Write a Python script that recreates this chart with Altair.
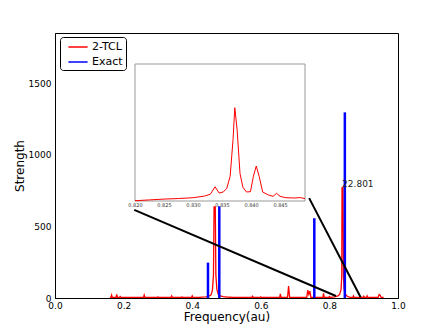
import altair as alt
import pandas as pd

# ---- main spectrum: 2-TCL (red line) ----
red_freq = [0.160, 0.163, 0.165, 0.167, 0.178, 0.180, 0.182, 0.188, 0.190, 0.192,
            0.258, 0.260, 0.262, 0.298, 0.300, 0.302, 0.338, 0.340, 0.342,
            0.368, 0.370, 0.372, 0.398, 0.400, 0.402, 0.420, 0.440, 0.450, 0.455,
            0.459, 0.462, 0.4638, 0.4655, 0.4672, 0.469, 0.472, 0.476, 0.482,
            0.490, 0.500, 0.520, 0.574, 0.576, 0.578, 0.598, 0.600, 0.602,
            0.655, 0.657, 0.659, 0.678, 0.681, 0.684, 0.734, 0.737, 0.740,
            0.743, 0.746, 0.781, 0.783, 0.785, 0.798, 0.800, 0.802, 0.815,
            0.825, 0.830, 0.834, 0.836, 0.8368, 0.838, 0.8395, 0.841, 0.843,
            0.846, 0.850, 0.856, 0.862, 0.868, 0.870, 0.872, 0.898, 0.900,
            0.902, 0.908, 0.910, 0.912, 0.942, 0.945, 0.948, 0.951, 0.958]
red_strength = [4, 4, 20, 4, 4, 25, 4, 4, 10, 4,
                4, 20, 4, 4, 8, 4, 4, 15, 4,
                4, 8, 4, 4, 15, 4, 5, 8, 14, 22,
                55, 160, 640, 600, 640, 160, 60, 25, 14,
                9, 7, 5, 4, 12, 4, 4, 8, 4,
                4, 28, 4, 4, 84, 4, 4, 55, 25,
                48, 4, 4, 32, 4, 4, 10, 4, 8,
                15, 25, 60, 150, 774, 720, 774, 150, 60,
                30, 15, 8, 5, 4, 15, 4, 4, 12,
                4, 4, 15, 4, 4, 25, 20, 4, 4]

# ---- exact spectrum (blue sticks) ----
exact_freq = [0.446, 0.479, 0.756, 0.845]
exact_strength = [247, 640, 557, 1296]

# ---- inset (zoom of 2-TCL near 0.835) ----
inset_freq = [0.8200, 0.8225, 0.8250, 0.8275, 0.8300, 0.8320, 0.8330, 0.8338,
              0.8345, 0.8352, 0.8358, 0.8364, 0.8369, 0.8372, 0.8376, 0.8381,
              0.8386, 0.8392, 0.8399, 0.8404, 0.8409, 0.8414, 0.8420, 0.8430,
              0.8438, 0.8444, 0.8450, 0.8460, 0.8475, 0.8485, 0.8493]
inset_strength = [2, 8, 14, 18, 24, 36, 50, 104,
                  58, 66, 90, 180, 450, 681, 520, 200,
                  100, 66, 68, 180, 255, 180, 66, 44,
                  34, 56, 34, 24, 22, 25, 17]
inset_ticks = [0.820, 0.825, 0.830, 0.835, 0.840, 0.845]
inset_domain_x = [0.820, 0.8493]
inset_domain_y = [0, 1000]

# ---- connector lines and annotation ----
conn_x1 = [0.231, 0.741]
conn_y1 = [615, 697]
conn_x2 = [0.819, 0.891]
conn_y2 = [14, 5]
label_text = ["22.801"]
label_freq = [0.837]
label_strength = [797]

x_ticks = [0.0, 0.2, 0.4, 0.6, 0.8, 1.0]
y_ticks = [0, 500, 1000, 1500]

W, H = 343, 265
FONT = "DejaVu Sans"

red_df = pd.DataFrame({"freq": red_freq, "strength": red_strength, "series": "2-TCL"})
exact_df = pd.DataFrame({"freq": exact_freq, "strength": exact_strength, "series": "Exact"})
exact_df["base"] = 0
conn_df = pd.DataFrame({"x1": conn_x1, "y1": conn_y1, "x2": conn_x2, "y2": conn_y2})
label_df = pd.DataFrame({"freq": label_freq, "strength": label_strength, "text": label_text})
inset_df = pd.DataFrame({"freq": inset_freq, "strength": inset_strength})
frame_df = pd.DataFrame({"x1": [inset_domain_x[0]], "x2": [inset_domain_x[1]],
                         "y1": [inset_domain_y[0]], "y2": [inset_domain_y[1]]})

x_main = alt.Scale(domain=[0, 1], nice=False, zero=False)
y_main = alt.Scale(domain=[0, 1850], nice=False)
color_scale = alt.Scale(domain=["2-TCL", "Exact"], range=["red", "blue"])

red = alt.Chart(red_df).mark_line(strokeWidth=1.3, clip=True).encode(
    x=alt.X("freq:Q", scale=x_main,
            axis=alt.Axis(values=x_ticks, format=".1f", title="Frequency(au)",
                          labelPadding=3, titlePadding=1, labelFlush=False)),
    y=alt.Y("strength:Q", scale=y_main,
            axis=alt.Axis(values=y_ticks, format="d", title="Strength",
                          labelPadding=4, titlePadding=2, labelFlush=False)),
    color=alt.Color("series:N", scale=color_scale,
                    legend=alt.Legend(title=None, orient="none", legendX=5, legendY=4,
                                      symbolType="M-1.6,0H1.6", symbolStrokeWidth=1.5,
                                      symbolSize=144, symbolOffset=8,
                                      labelFontSize=11, labelFont=FONT,
                                      strokeColor="black", fillColor="white",
                                      cornerRadius=3, padding=3, rowPadding=3,
                                      labelOffset=7)),
)

blue = alt.Chart(exact_df).mark_rule(strokeWidth=2.5).encode(
    x="freq:Q",
    y="strength:Q",
    y2="base:Q",
    color=alt.Color("series:N", scale=color_scale),
)

conn = alt.Chart(conn_df).mark_rule(strokeWidth=2, color="black").encode(
    x="x1:Q", y="y1:Q", x2="x2:Q", y2="y2:Q"
)

label = alt.Chart(label_df).mark_text(align="left", baseline="middle", fontSize=9,
                                      font=FONT, color="#222222").encode(
    x="freq:Q", y="strength:Q", text="text:N"
)

main = alt.layer(red, blue, conn, label)

x_inset = alt.Scale(domain=inset_domain_x, range=[80, 250], nice=False, zero=False)
y_inset = alt.Scale(domain=inset_domain_y, range=[168, 31], nice=False)

frame = alt.Chart(frame_df).mark_rect(fill="white", stroke="#999999", strokeWidth=1).encode(
    x=alt.X("x1:Q", scale=x_inset,
            axis=alt.Axis(orient="bottom", offset=-97, values=inset_ticks, format=".3f",
                          labelFontSize=5, labelColor="#333333", domain=False, ticks=False,
                          labelPadding=1, title=None, grid=False, labelFlush=False)),
    x2="x2:Q",
    y=alt.Y("y1:Q", scale=y_inset, axis=None),
    y2="y2:Q",
)

inset_line = alt.Chart(inset_df).mark_line(color="red", strokeWidth=1).encode(
    x=alt.X("freq:Q", scale=x_inset),
    y=alt.Y("strength:Q", scale=y_inset),
)

inset = alt.layer(frame, inset_line)

chart = alt.layer(main, inset).resolve_scale(
    x="independent", y="independent"
).properties(
    width=W, height=H,
    autosize=alt.AutoSizeParams(type="none"),
    padding={"left": 47, "top": 25, "right": 37, "bottom": 31},
).configure_view(
    stroke="black", strokeWidth=1
).configure_axis(
    grid=False, ticks=False, domainColor="black", labelColor="black",
    labelFont=FONT, titleFont=FONT, labelFontSize=9, titleFontSize=12,
    titleFontWeight="normal", titleColor="black",
)

chart.save("out.html", embed_options={"renderer": "svg", "actions": False})
